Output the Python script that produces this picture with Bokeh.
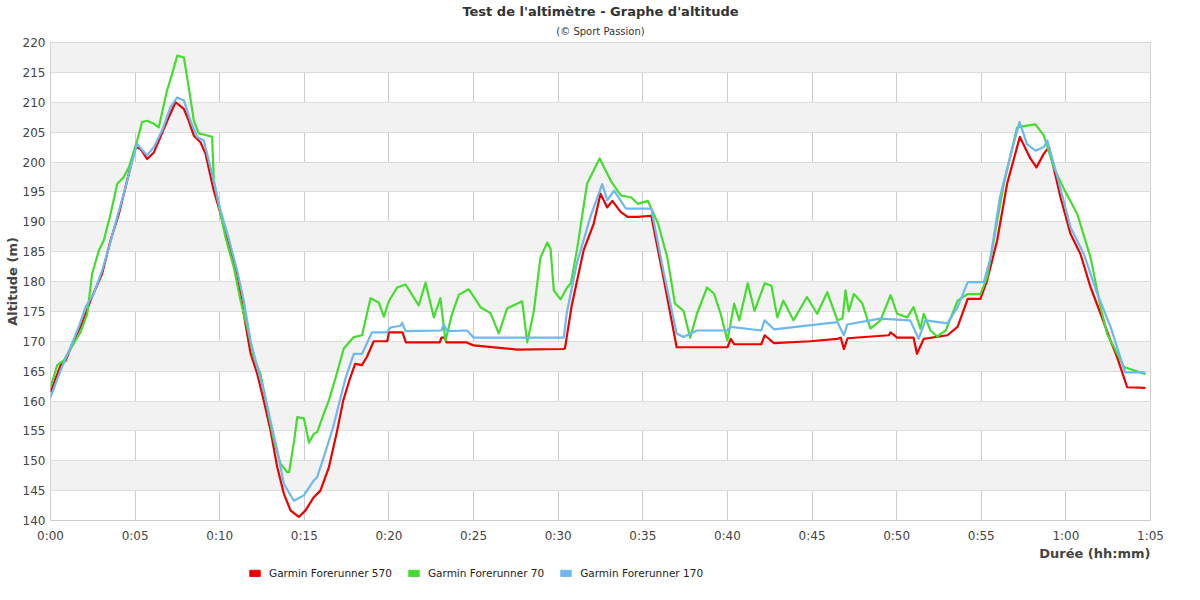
from bokeh.plotting import figure
from bokeh.layouts import column
from bokeh.models import (FixedTicker, Title, Legend, LegendItem, Range1d)
from bokeh.embed import file_html
from bokeh.resources import INLINE

# ---------------- data (minutes, metres) ----------------
t_fr570 = [0.0, 0.6, 0.9, 1.3, 1.87, 2.36, 3.05, 3.55, 4.04, 4.53, 5.02, 5.32, 5.71, 6.11, 6.5, 6.99,
           7.39, 7.88, 8.17, 8.47, 8.86, 9.16, 9.65, 10.05, 10.44, 11.03, 11.42, 11.82, 12.21, 12.6,
           13.0, 13.4, 13.79, 14.18, 14.67, 15.07, 15.56, 15.95, 16.45, 16.9, 17.3, 17.7, 18.0, 18.4,
           18.7, 19.1, 19.9, 20.0, 20.8, 21.0, 23.0, 23.1, 23.3, 23.4, 24.6, 25.0, 27.6, 30.3, 30.4,
           30.8, 31.5, 32.1, 32.5, 32.9, 33.2, 33.7, 34.1, 34.7, 35.5, 36.25, 37.0, 40.0, 40.2, 40.4,
           42.0, 42.2, 42.75, 44.9, 46.5, 46.7, 46.88, 47.1, 49.54, 49.64, 50.03, 51.0, 51.2, 51.6,
           53.0, 53.6, 54.2, 54.95, 55.35, 55.94, 56.53, 57.28, 57.9, 58.26, 58.7, 59.0, 59.68, 60.27,
           60.86, 61.46, 62.05, 62.64, 63.03, 63.62, 64.7]
alt_fr570 = [161.5, 166.0, 166.8, 169.6, 173.0, 176.8, 181.3, 186.9, 191.3, 196.9, 202.5, 202.2, 200.5,
             201.6, 204.2, 207.5, 210.0, 208.9, 206.9, 204.4, 203.3, 201.4, 195.2, 191.3, 186.9, 181.3,
             174.6, 168.0, 164.6, 160.1, 155.1, 148.9, 144.5, 141.7, 140.6, 141.7, 143.9, 145.0, 148.9,
             154.5, 160.1, 163.8, 166.2, 166.0, 167.4, 170.0, 170.0, 171.5, 171.5, 169.8, 169.8, 170.6,
             170.6, 169.8, 169.8, 169.3, 168.6, 168.7, 168.8, 176.0, 185.2, 189.7, 194.7, 192.4, 193.5,
             191.6, 190.8, 190.8, 191.0, 180.2, 169.0, 169.0, 170.4, 169.5, 169.5, 171.0, 169.7, 170.0,
             170.4, 170.6, 168.7, 170.5, 171.0, 171.5, 170.6, 170.6, 167.9, 170.4, 171.0, 172.4, 177.1,
             177.1, 180.2, 186.9, 196.4, 204.2, 200.6, 199.1, 201.4, 202.5, 194.1, 188.0, 184.6, 179.0,
             174.6, 170.1, 167.3, 162.3, 162.2]

t_fr70 = [0.0, 0.4, 0.79, 1.18, 1.77, 2.17, 2.46, 2.86, 3.15, 3.55, 3.94, 4.33, 4.63, 5.12, 5.41, 5.71,
          6.11, 6.4, 6.89, 7.19, 7.49, 7.88, 8.17, 8.47, 8.76, 9.06, 9.55, 9.65, 10.05, 10.34, 10.83,
          11.23, 11.62, 12.01, 12.41, 12.8, 13.2, 13.59, 13.98, 14.1, 14.4, 14.58, 14.97, 15.27, 15.56,
          15.76, 16.15, 16.45, 16.84, 17.33, 17.92, 18.41, 18.91, 19.4, 19.7, 19.99, 20.48, 20.98, 21.76,
          22.16, 22.65, 23.04, 23.34, 23.73, 24.13, 24.72, 25.41, 26.0, 26.49, 26.98, 27.87, 28.17,
          28.56, 28.95, 29.35, 29.55, 29.74, 30.14, 30.53, 30.75, 31.12, 31.71, 32.45, 33.1, 33.7, 34.3,
          34.7, 35.3, 35.9, 36.45, 36.9, 37.4, 37.8, 38.2, 38.8, 39.2, 39.6, 40.0, 40.4, 40.7, 41.2, 41.6,
          42.2, 42.6, 42.95, 43.3, 43.9, 44.7, 45.3, 45.9, 46.5, 46.8, 46.98, 47.17, 47.47, 47.96, 48.45,
          49.04, 49.64, 50.03, 50.62, 51.0, 51.4, 51.6, 52.0, 52.4, 52.9, 53.6, 54.2, 54.95, 55.35,
          56.33, 57.12, 57.71, 58.2, 58.7, 59.29, 59.88, 60.67, 61.46, 62.05, 62.44, 62.84, 63.43, 64.7]
alt_fr70 = [162.3, 166.0, 166.8, 168.7, 171.5, 174.6, 181.3, 185.2, 186.9, 191.3, 196.3, 197.5, 199.1,
            203.6, 206.7, 206.9, 206.4, 205.8, 212.0, 214.8, 217.8, 217.5, 212.5, 206.9, 204.8, 204.6,
            204.2, 196.9, 191.3, 187.4, 182.4, 176.8, 172.4, 167.3, 164.5, 159.0, 153.4, 149.5, 148.1,
            148.1, 153.4, 157.3, 157.1, 153.0, 154.5, 154.8, 157.9, 160.1, 163.8, 168.8, 170.7, 171.0,
            177.2, 176.5, 174.1, 176.7, 179.0, 179.5, 176.0, 179.8, 174.0, 177.2, 170.1, 174.6, 177.8,
            178.7, 175.7, 174.7, 171.3, 175.5, 176.7, 169.8, 175.0, 184.0, 186.5, 185.5, 178.5, 177.0,
            179.0, 179.7, 185.5, 196.4, 200.6, 196.9, 194.4, 194.1, 193.0, 193.5, 189.7, 184.0, 176.3,
            175.1, 170.6, 174.6, 179.0, 178.0, 174.6, 170.1, 176.3, 173.5, 179.7, 175.1, 179.7, 179.3,
            174.0, 176.8, 173.5, 177.4, 174.6, 178.2, 173.5, 173.8, 178.5, 175.0, 177.9, 176.4, 172.1,
            173.5, 177.7, 174.6, 174.0, 175.7, 172.1, 174.6, 171.8, 170.8, 171.8, 176.8, 177.9, 177.9,
            180.7, 196.3, 205.8, 206.1, 206.3, 204.4, 199.1, 195.5, 191.3, 184.0, 175.7, 171.2, 169.0,
            165.7, 164.5]

t_fr170 = [0.0, 0.59, 1.18, 1.67, 2.07, 2.56, 3.05, 3.45, 3.94, 4.33, 4.73, 5.12, 5.71, 6.11, 6.6, 7.09,
           7.49, 7.88, 8.27, 8.66, 9.06, 9.45, 10.05, 10.54, 11.03, 11.42, 11.82, 12.21, 12.6, 13.0,
           13.4, 13.79, 14.38, 14.97, 15.56, 15.76, 16.15, 16.7, 17.1, 17.43, 17.92, 18.41, 19.0, 19.89,
           20.09, 20.68, 20.78, 20.98, 23.1, 23.24, 23.44, 24.62, 25.01, 30.33, 30.5, 31.1, 31.9, 32.6,
           32.9, 33.3, 34.0, 35.5, 36.25, 37.0, 37.4, 38.2, 40.0, 40.2, 42.0, 42.2, 42.75, 46.5, 46.88,
           47.08, 49.0, 50.8, 51.3, 51.7, 53.0, 53.6, 54.2, 55.15, 55.55, 56.1, 56.7, 57.26, 57.7, 58.2,
           58.7, 58.9, 59.5, 60.27, 61.06, 61.85, 62.64, 63.5, 64.7]
alt_fr170 = [160.6, 165.1, 169.0, 172.4, 175.7, 178.0, 181.8, 185.7, 190.8, 194.7, 199.1, 203.0, 201.1,
             202.5, 205.3, 209.2, 210.8, 210.3, 206.9, 204.2, 203.6, 199.1, 191.9, 187.1, 181.8, 176.8,
             170.1, 165.7, 161.8, 156.7, 151.7, 146.1, 143.3, 144.2, 146.7, 147.3, 150.6, 155.6, 160.1,
             163.8, 167.9, 167.9, 171.5, 171.5, 172.3, 172.6, 173.1, 171.7, 171.8, 172.8, 171.7, 171.8,
             170.6, 170.6, 174.6, 183.0, 190.8, 196.3, 193.6, 195.2, 192.2, 192.2, 181.3, 171.3, 170.7,
             171.8, 171.8, 172.4, 171.8, 173.5, 172.0, 173.2, 171.0, 172.8, 173.8, 173.5, 170.4, 173.5,
             173.0, 175.7, 179.9, 179.9, 184.0, 194.1, 200.8, 206.7, 203.0, 201.9, 202.5, 203.6, 197.5,
             189.1, 184.6, 178.0, 172.4, 164.8, 164.8]

series_names = ["Garmin Forerunner 570", "Garmin Forerunner 70", "Garmin Forerunner 170"]
series_colors = ["#ee0000", "#44dd2e", "#6cb8f0"]

x_ticks = [0, 5, 10, 15, 20, 25, 30, 35, 40, 45, 50, 55, 60, 65]
x_tick_labels = ["0:00", "0:05", "0:10", "0:15", "0:20", "0:25", "0:30", "0:35",
                 "0:40", "0:45", "0:50", "0:55", "1:00", "1:05"]
y_ticks = list(range(140, 221, 5))

FONT = "DejaVu Sans"
W = 1184

p = figure(width=W, height=562, output_backend="svg", toolbar_location=None,
           x_range=Range1d(0, 65), y_range=Range1d(140, 220),
           min_border_left=50, min_border_right=34, min_border_top=42, min_border_bottom=42)
p.background_fill_color = "white"
p.border_fill_color = "white"
p.outline_line_color = "#cccccc"

# title / subtitle
p.title.text = "Test de l'altimètre - Graphe d'altitude"
p.title.align = "center"
p.title.text_font = FONT
p.title.text_font_size = "13px"
p.title.text_font_style = "bold"
p.title.text_color = "#333333"
p.title.standoff = 0
p.add_layout(Title(text="(© Sport Passion)", align="center", text_font=FONT,
                   text_font_size="10px", text_font_style="normal", text_color="#333333",
                   standoff=11), "above")

# axes
p.xaxis.ticker = FixedTicker(ticks=x_ticks)
p.xaxis.major_label_overrides = {k: v for k, v in zip(x_ticks, x_tick_labels)}
p.yaxis.ticker = FixedTicker(ticks=y_ticks)
for ax in (p.xaxis[0], p.yaxis[0]):
    ax.axis_line_color = None
    ax.major_tick_line_color = None
    ax.minor_tick_line_color = None
    ax.major_tick_out = 0
    ax.major_tick_in = 0
    ax.minor_tick_out = 0
    ax.minor_tick_in = 0
    ax.major_label_text_font = FONT
    ax.major_label_text_font_size = "12px"
    ax.major_label_text_color = "#444444"
p.xaxis.major_label_standoff = 8
p.yaxis.major_label_standoff = 5
p.yaxis.axis_label = "Altitude (m)"
p.yaxis.axis_label_text_font = FONT
p.yaxis.axis_label_text_font_size = "13px"
p.yaxis.axis_label_text_font_style = "bold"
p.yaxis.axis_label_text_color = "#444444"
p.yaxis.axis_label_standoff = 0

p.add_layout(Title(text="Durée (hh:mm)", align="right", text_font=FONT, text_font_size="13px",
                   text_font_style="bold", text_color="#444444", standoff=-3), "below")

# grids
p.xgrid.grid_line_color = "#cccccc"
p.ygrid.grid_line_color = "#dddddd"
p.ygrid.band_fill_color = "#f2f2f2"
p.ygrid.band_fill_alpha = 1.0

# lines
all_t = [t_fr570, t_fr70, t_fr170]
all_alt = [alt_fr570, alt_fr70, alt_fr170]
for name, color, tt, aa in zip(series_names, series_colors, all_t, all_alt):
    p.line(tt, aa, line_color=color, line_width=2.2, line_join="round")

# legend strip (separate figure under the chart)
lg = figure(width=W, height=22, output_backend="svg", toolbar_location=None,
            x_range=Range1d(0, 1), y_range=Range1d(0, 1),
            x_axis_location=None, y_axis_location=None,
            min_border_left=0, min_border_right=0, min_border_top=0, min_border_bottom=0)
lg.grid.visible = False
lg.outline_line_color = None
lg.background_fill_color = "white"
lg.border_fill_color = "white"
nan = float("nan")
items = []
for name, color in zip(series_names, series_colors):
    # legend proxy glyph: a single NaN quad, never drawn in the plot area
    sw = lg.quad(left=[nan], right=[nan], top=[nan], bottom=[nan],
                 fill_color=color, line_color=color, line_width=1)
    items.append(LegendItem(label=name, renderers=[sw]))
legend = Legend(items=items, orientation="horizontal", location=(198, 1),
                label_text_font=FONT, label_text_font_size="10.5px", label_text_color="#222222",
                glyph_width=13, glyph_height=8, label_standoff=8, spacing=15,
                label_height=20, border_line_color=None, background_fill_alpha=0,
                padding=0, margin=0)
lg.add_layout(legend, "center")

layout = column(p, lg, spacing=0)
open("out.html", "w").write(file_html(layout, INLINE))
